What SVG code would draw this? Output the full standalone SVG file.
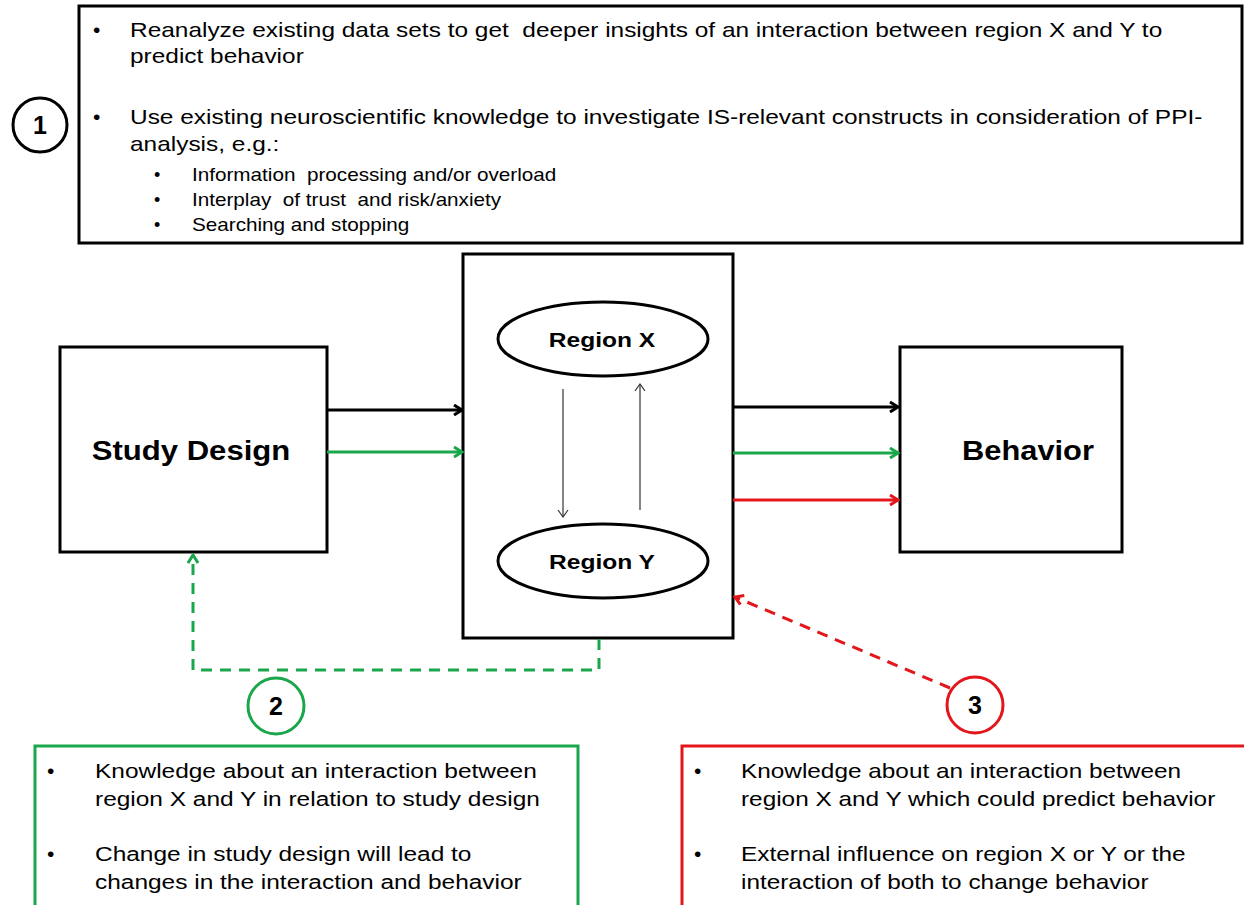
<svg xmlns="http://www.w3.org/2000/svg" width="1244" height="905" viewBox="0 0 1244 905">
<style>
.t{font-family:"Liberation Sans",Arial,sans-serif;fill:#000}
.b{font-size:21px}
.s{font-size:18px}
.bold{font-weight:bold}
.box{fill:#fff;stroke:#000;stroke-width:3}
</style>
<defs>
<marker id="ak" markerWidth="12" markerHeight="12" refX="10" refY="6" orient="auto" markerUnits="userSpaceOnUse"><path d="M2,1 L10,6 L2,11" fill="none" stroke="#000" stroke-width="3"/></marker>
<marker id="ag" markerWidth="12" markerHeight="12" refX="10" refY="6" orient="auto" markerUnits="userSpaceOnUse"><path d="M2,1 L10,6 L2,11" fill="none" stroke="#1aa64a" stroke-width="3"/></marker>
<marker id="ar" markerWidth="12" markerHeight="12" refX="10" refY="6" orient="auto" markerUnits="userSpaceOnUse"><path d="M2,1 L10,6 L2,11" fill="none" stroke="#e3161b" stroke-width="3"/></marker>
<marker id="at" markerWidth="12" markerHeight="12" refX="10" refY="6" orient="auto" markerUnits="userSpaceOnUse"><path d="M3,1 L10,6 L3,11" fill="none" stroke="#333" stroke-width="1.2"/></marker>
</defs>
<rect width="1244" height="905" fill="#fff"/>

<g id="note1">
<rect class="box" x="79" y="6" width="1163" height="237"/>
<circle cx="40" cy="125" r="27" fill="#fff" stroke="#000" stroke-width="3"/>
<text class="t bold" x="40" y="134" font-size="25" text-anchor="middle">1</text>
<text class="t b" x="93" y="37">•</text>
<text class="t b" x="93" y="124">•</text>
<text class="t s" x="154" y="181">•</text>
<text class="t s" x="154" y="206">•</text>
<text class="t s" x="154" y="231">•</text>
<g transform="translate(130 0) scale(1.164 1)">
<text class="t b" x="0" y="37" xml:space="preserve">Reanalyze existing data sets to get  deeper insights of an interaction between region X and Y to</text>
<text class="t b" x="0" y="63">predict behavior</text>
<text class="t b" x="0" y="124">Use existing neuroscientific knowledge to investigate IS-relevant constructs in consideration of PPI-</text>
<text class="t b" x="0" y="151">analysis, e.g.:</text>
</g>
<g transform="translate(192 0) scale(1.15 1)">
<text class="t s" x="0" y="181" xml:space="preserve">Information  processing and/or overload</text>
<text class="t s" x="0" y="206" xml:space="preserve">Interplay  of trust  and risk/anxiety</text>
<text class="t s" x="0" y="231">Searching and stopping</text>
</g>
</g>

<g id="study">
<rect class="box" x="60" y="347" width="267" height="205"/>
<text class="t bold" transform="translate(191 460) scale(1.11 1)" x="0" y="0" font-size="28" text-anchor="middle">Study Design</text>
</g>

<g id="center">
<rect class="box" x="463" y="254" width="270" height="384"/>
</g>
<g id="regionX">
<ellipse cx="603" cy="339" rx="105" ry="37" fill="#fff" stroke="#000" stroke-width="3"/>
<text class="t bold" transform="translate(602 347) scale(1.17 1)" x="0" y="0" font-size="21" text-anchor="middle">Region X</text>
</g>
<g id="regionY">
<ellipse cx="603" cy="561" rx="105" ry="37" fill="#fff" stroke="#000" stroke-width="3"/>
<text class="t bold" transform="translate(602 569) scale(1.17 1)" x="0" y="0" font-size="21" text-anchor="middle">Region Y</text>
</g>

<g id="behavior">
<rect class="box" x="900" y="347" width="222" height="205"/>
<text class="t bold" transform="translate(1028 460) scale(1.1 1)" x="0" y="0" font-size="28" text-anchor="middle">Behavior</text>
</g>

<g id="connectors" fill="none">
<line x1="327" y1="410" x2="462" y2="410" stroke="#000" stroke-width="3" marker-end="url(#ak)"/>
<line x1="327" y1="452" x2="462" y2="452" stroke="#1aa64a" stroke-width="3" marker-end="url(#ag)"/>
<line x1="733" y1="407" x2="898" y2="407" stroke="#000" stroke-width="3" marker-end="url(#ak)"/>
<line x1="733" y1="453" x2="898" y2="453" stroke="#1aa64a" stroke-width="3" marker-end="url(#ag)"/>
<line x1="733" y1="500" x2="898" y2="500" stroke="#e3161b" stroke-width="3" marker-end="url(#ar)"/>
<line x1="563" y1="389" x2="563" y2="517" stroke="#333" stroke-width="1.2" marker-end="url(#at)"/>
<line x1="640" y1="510" x2="640" y2="384" stroke="#333" stroke-width="1.2" marker-end="url(#at)"/>
<polyline points="599,639 599,670 193,670 193,555" stroke="#1aa64a" stroke-width="3" stroke-dasharray="11,8" marker-end="url(#ag)"/>
<line x1="950" y1="688" x2="735" y2="597" stroke="#e3161b" stroke-width="3" stroke-dasharray="11,8" marker-end="url(#ar)"/>
</g>

<g id="note2">
<circle cx="276" cy="706" r="28" fill="#fff" stroke="#1aa64a" stroke-width="3"/>
<text class="t bold" x="276" y="715" font-size="25" text-anchor="middle">2</text>
<rect x="35" y="746" width="543" height="165" fill="#fff" stroke="#1aa64a" stroke-width="3"/>
<text class="t b" x="47" y="778">•</text>
<text class="t b" x="47" y="861">•</text>
<g transform="translate(95 0) scale(1.165 1)">
<text class="t b" x="0" y="778">Knowledge about an interaction between</text>
<text class="t b" x="0" y="806">region X and Y in relation to study design</text>
<text class="t b" x="0" y="861">Change in study design will lead to</text>
<text class="t b" x="0" y="889">changes in the interaction and behavior</text>
</g>
</g>

<g id="note3">
<circle cx="975" cy="705" r="28" fill="#fff" stroke="#e3161b" stroke-width="3"/>
<text class="t bold" x="975" y="714" font-size="25" text-anchor="middle">3</text>
<rect x="682" y="746" width="570" height="165" fill="#fff" stroke="#e3161b" stroke-width="3"/>
<text class="t b" x="694" y="778">•</text>
<text class="t b" x="694" y="861">•</text>
<g transform="translate(741 0) scale(1.16 1)">
<text class="t b" x="0" y="778">Knowledge about an interaction between</text>
<text class="t b" x="0" y="806">region X and Y which could predict behavior</text>
<text class="t b" x="0" y="861">External influence on region X or Y or the</text>
<text class="t b" x="0" y="889">interaction of both to change behavior</text>
</g>
</g>
</svg>
